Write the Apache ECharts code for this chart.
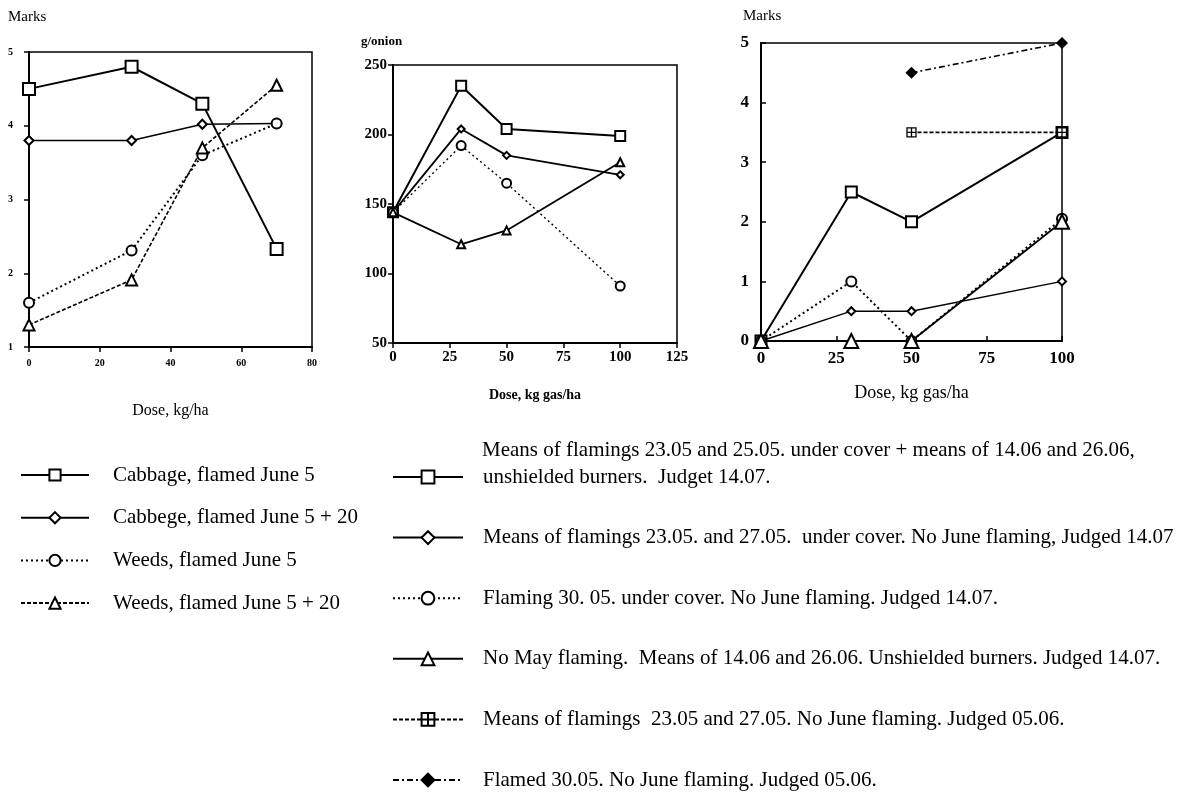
<!DOCTYPE html>
<html>
<head>
<meta charset="utf-8">
<script src="https://cdn.jsdelivr.net/npm/echarts@6/dist/echarts.min.js"></script>
<style>
  html, body { margin: 0; padding: 0; background: #fff; }
  #chart { width: 1186px; height: 793px; }
</style>
</head>
<body>
<div id="chart"></div>
<script>
// Left panel: cabbage / weeds marks vs dose (kg/ha)
const leftDose = [0, 29, 49, 70];
const cabbageJune5 = [4.5, 4.8, 4.3, 2.33];
const cabbageJune5Plus20 = [3.8, 3.8, 4.02, 4.03];
const weedsJune5 = [1.6, 2.31, 3.6, 4.03];
const weedsJune5Plus20 = [1.3, 1.91, 3.7, 4.55];

// Middle panel: g/onion vs dose (kg gas/ha)
const gasDose = [0, 30, 50, 100];
const onionMeansCoverUnshielded = [144, 235, 204, 199];
const onionMeansCover = [144, 204, 185, 171];
const onionFlaming3005 = [144, 192, 165, 91];
const onionNoMay = [144, 121, 131, 180];

// Right panel: marks vs dose (kg gas/ha)
const marksMeansCoverUnshielded = [0, 2.5, 2.0, 3.5];
const marksMeansCover = [0, 0.5, 0.5, 1.0];
const marksFlaming3005 = [0, 1.0, 0, 2.05];
const marksNoMay = [0, 0, 0, 2.0];
const lateDose = [50, 100];
const marksMeansJudged0506 = [3.5, 3.5];
const marksFlamed3005 = [4.5, 5.0];

const leftNames = [
    'Cabbage, flamed June 5',
    'Cabbege, flamed June 5 + 20',
    'Weeds, flamed June 5',
    'Weeds, flamed June 5 + 20'
];
const rightNames = [
    'Means of flamings 23.05 and 25.05. under cover + means of 14.06 and 26.06,\nunshielded burners.  Judget 14.07.',
    'Means of flamings 23.05. and 27.05.  under cover. No June flaming, Judged 14.07',
    'Flaming 30. 05. under cover. No June flaming. Judged 14.07.',
    'No May flaming.  Means of 14.06 and 26.06. Unshielded burners. Judged 14.07.',
    'Means of flamings  23.05 and 27.05. No June flaming. Judged 05.06.',
    'Flamed 30.05. No June flaming. Judged 05.06.'
];

const serif = 'Liberation Serif';
const crossSquare = 'path://M0,0L10,0L10,10L0,10Z M5,0L5,10 M0,5L10,5';

function pairs(xs, ys) {
    return xs.map((x, i) => [x, ys[i]]);
}

// un petit helper pour les séries en noir
function lineSeries(name, grid, data, symbol, size, lineType, width) {
    return {
        name: name,
        type: 'line',
        xAxisIndex: grid,
        yAxisIndex: grid,
        data: data,
        symbol: symbol,
        symbolSize: size,
        clip: false,
        animation: false,
        color: '#000',
        lineStyle: { color: '#000', width: width || 1.6, type: lineType || 'solid' },
        itemStyle: symbol === crossSquare
            ? { color: '#fff', borderColor: '#000', borderWidth: 1.3 }
            : { color: '#000', borderColor: '#000', borderWidth: 1.5 }
    };
}

function makeAxis(grid, min, max, interval, fontSize, inside, margin) {
    return {
        type: 'value',
        gridIndex: grid,
        min: min,
        max: max,
        interval: interval,
        splitLine: { show: false },
        axisLine: { show: true, lineStyle: { color: '#000', width: 2 } },
        axisTick: { show: true, inside: inside, length: 5, lineStyle: { color: '#000', width: 1.5 } },
        axisLabel: {
            color: '#000',
            fontFamily: serif,
            fontWeight: 'bold',
            fontSize: fontSize,
            margin: margin
        }
    };
}

const chart = echarts.init(document.getElementById('chart'));

const dotted = [2, 3];
const dashed = [4, 2];
const dashDot = [6, 3, 2, 3];

const option = {
    backgroundColor: '#fff',
    animation: false,
    grid: [
        { left: 29, top: 52, width: 283, height: 295, show: true, borderColor: '#000', borderWidth: 1.5 },
        { left: 393, top: 65, width: 284, height: 278, show: true, borderColor: '#000', borderWidth: 1.5 },
        { left: 761, top: 43, width: 301, height: 298, show: true, borderColor: '#000', borderWidth: 1.5 }
    ],
    xAxis: [
        Object.assign(makeAxis(0, 0, 80, 20, 10, false, 11), {
            name: 'Dose, kg/ha', nameLocation: 'middle', nameGap: 56,
            nameTextStyle: { fontFamily: serif, fontSize: 16, color: '#000' }
        }),
        Object.assign(makeAxis(1, 0, 125, 25, 15, false, 7), {
            name: 'Dose, kg gas/ha', nameLocation: 'middle', nameGap: 45,
            nameTextStyle: { fontFamily: serif, fontSize: 14, fontWeight: 'bold', color: '#000' }
        }),
        Object.assign(makeAxis(2, 0, 100, 25, 17, true, 9), {
            name: 'Dose, kg gas/ha', nameLocation: 'middle', nameGap: 43,
            nameTextStyle: { fontFamily: serif, fontSize: 18, color: '#000' }
        })
    ],
    yAxis: [
        makeAxis(0, 1, 5, 1, 10, false, 16),
        makeAxis(1, 50, 250, 50, 15, false, 6),
        makeAxis(2, 0, 5, 1, 17, true, 12)
    ],
    legend: [
        {
            data: leftNames,
            orient: 'vertical',
            left: 20,
            top: 464,
            padding: 0,
            itemWidth: 68,
            itemHeight: 14,
            itemGap: 20.7,
            selectedMode: false,
            textStyle: { fontFamily: serif, fontSize: 21, color: '#000', lineHeight: 22, padding: [0, 0, 0, 19] }
        },
        {
            data: rightNames,
            orient: 'vertical',
            left: 392,
            top: 466,
            height: 327,
            padding: 0,
            itemWidth: 70,
            itemHeight: 16,
            itemGap: 38.6,
            selectedMode: false,
            formatter: function (name) {
                const parts = name.split('\n');
                return parts[parts.length - 1];
            },
            textStyle: { fontFamily: serif, fontSize: 21, color: '#000', lineHeight: 22, padding: [0, 0, 0, 15] }
        }
    ],
    graphic: [
        { type: 'text', left: 8, top: 10, style: { text: 'Marks', font: '15px "Liberation Serif"', fill: '#000' } },
        { type: 'text', left: 361, top: 35, style: { text: 'g/onion', font: 'bold 13px "Liberation Serif"', fill: '#000' } },
        { type: 'text', left: 743, top: 9, style: { text: 'Marks', font: '15px "Liberation Serif"', fill: '#000' } },
        { type: 'text', left: 482, top: 440, style: { text: rightNames[0].split('\n')[0], font: '21px "Liberation Serif"', fill: '#000' } }
    ],
    series: [
        lineSeries(leftNames[0], 0, pairs(leftDose, cabbageJune5), 'emptyRect', 12, 'solid', 2),
        lineSeries(leftNames[1], 0, pairs(leftDose, cabbageJune5Plus20), 'emptyDiamond', 9, 'solid', 1.4),
        lineSeries(leftNames[2], 0, pairs(leftDose, weedsJune5), 'emptyCircle', 10, dotted, 2),
        lineSeries(leftNames[3], 0, pairs(leftDose, weedsJune5Plus20), 'emptyTriangle', 11, dashed, 1.6),

        lineSeries(rightNames[0], 1, pairs(gasDose, onionMeansCoverUnshielded), 'emptyRect', 10, 'solid', 2),
        lineSeries(rightNames[1], 1, pairs(gasDose, onionMeansCover), 'emptyDiamond', 7, 'solid', 1.8),
        lineSeries(rightNames[2], 1, pairs(gasDose, onionFlaming3005), 'emptyCircle', 9, dotted, 1.4),
        lineSeries(rightNames[3], 1, pairs(gasDose, onionNoMay), 'emptyTriangle', 8, 'solid', 1.8),

        lineSeries(rightNames[0], 2, pairs(gasDose, marksMeansCoverUnshielded), 'emptyRect', 11, 'solid', 2),
        lineSeries(rightNames[1], 2, pairs(gasDose, marksMeansCover), 'emptyDiamond', 8, 'solid', 1.4),
        lineSeries(rightNames[2], 2, pairs(gasDose, marksFlaming3005), 'emptyCircle', 10, dotted, 2),
        lineSeries(rightNames[3], 2, pairs(gasDose, marksNoMay), 'emptyTriangle', 14, 'solid', 1.8),
        lineSeries(rightNames[4], 2, pairs(lateDose, marksMeansJudged0506), crossSquare, 9, dashed, 1.8),
        lineSeries(rightNames[5], 2, pairs(lateDose, marksFlamed3005), 'diamond', 10, dashDot, 1.6)
    ]
};

chart.setOption(option);
window.addEventListener('resize', () => chart.resize());
</script>
</body>
</html>
